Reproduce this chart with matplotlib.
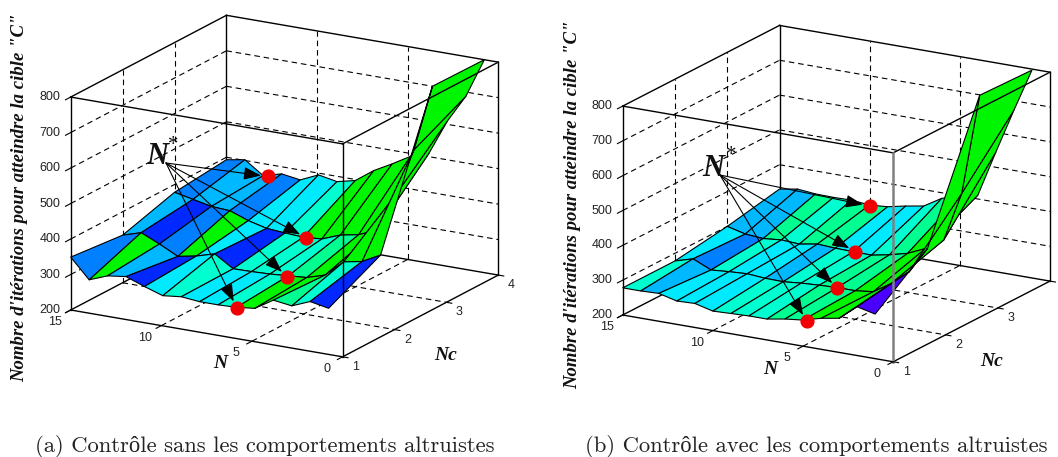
import numpy as np
import matplotlib
matplotlib.use('Agg')
import matplotlib.pyplot as plt
from mpl_toolkits.mplot3d import proj3d

# === axes ===
z_ticks = [200, 300, 400, 500, 600, 700, 800]
n_ticks = [15, 10, 5, 0]
nc_ticks = [1, 2, 3, 4]
nc_vals = [1, 2, 3, 4]

# === (a) sans comportements altruistes ===
n_a = [15.0, 13.98, 12.97, 11.95, 10.93, 9.92, 8.90, 7.89, 6.87, 5.85, 4.84, 3.82, 2.80, 1.79, 0.77]
z_a1 = [349, 294, 314, 321, 302, 285, 291, 286, 286, 288, 294, 326, 319, 340, 330]
z_a2 = [334, 350, 327, 301, 311, 326, 293, 294, 296, 300, 304, 320, 366, 376, 403]
z_a3 = [378, 367, 356, 353, 334, 321, 317, 314, 318, 338, 348, 370, 478, 614, 802]
z_a4 = [393, 402, 366, 380, 372, 395, 385, 397, 434, 462, 492, 510, 610, 688, 800]
lev_a1 = [2, 7, 3, 1, 4, 5, 4, 4, 5, 7, 7, 6, 5, 1]
lev_a2 = [3, 1, 2, 7, 4, 1, 5, 5, 5, 6, 7, 7, 7, 7]
lev_a3 = [2, 3, 3, 2, 4, 4, 5, 7, 7, 7, 7, 7, 7, 7]
best_n_a = [12.72, 7.73, 5.93, 5.84]
best_nc_a = [4, 3, 2, 1]
best_z_a = [366, 314, 297, 287]

# === (b) avec comportements altruistes ===
n_b = [15, 14, 13, 12, 11, 10, 9, 8, 7, 6, 5, 4, 3, 2, 1]
z_b1 = [278, 278, 280, 267, 269, 256, 258, 260, 260, 269, 275, 289, 298, 340, 328]
z_b2 = [278, 293, 270, 274, 277, 273, 272, 277, 280, 282, 282, 288, 321, 364, 439]
z_b3 = [300, 287, 283, 288, 285, 294, 291, 290, 289, 299, 312, 335, 368, 511, 802]
z_b4 = [330, 339, 334, 333, 334, 329, 333, 344, 353, 384, 397, 411, 544, 673, 797]
lev_b1 = [5, 3, 4, 4, 4, 5, 5, 5, 6, 6, 7, 7, 7, 0]
lev_b2 = [4, 2, 5, 4, 4, 3, 5, 5, 6, 6, 7, 7, 7, 7]
lev_b3 = [3, 3, 6, 5, 6, 6, 4, 4, 5, 6, 7, 7, 7, 7]
best_n_b = [10.0, 7.9, 6.0, 4.8]
best_nc_b = [4, 3, 2, 1]
best_z_b = [326, 291, 281, 274]

palette = ['#4a00ff', '#0028ff', '#0080ff', '#00b8ff', '#00eaff', '#00ffd0', '#00ff90', '#00f500']
ylabel = 'Nombre d\'itérations pour atteindre la cible "C"'

W, H = 1058, 457
fig = plt.figure(figsize=(W / 100, H / 100), dpi=100)


def fit_box(ax, corner_a, px_a, corner_b, px_b):
    # place l'axe 3D pour que deux coins de la boite tombent sur les bons pixels
    M = ax.get_proj()
    xa, ya, _ = proj3d.proj_transform(*corner_a, M)
    xb, yb, _ = proj3d.proj_transform(*corner_b, M)
    x0, x1 = ax.viewLim.intervalx
    y0, y1 = ax.viewLim.intervaly
    w = (px_b[0] - px_a[0]) * (x1 - x0) / (xb - xa)
    left = px_a[0] - (xa - x0) / (x1 - x0) * w
    bottom = (H - px_a[1]) - (ya - y0) / (y1 - y0) * w
    ax.set_position([left / W, bottom / H, w / W, w / H])


def label_at(ax, n, nc, z, txt, dx, dy, **kw):
    x2, y2, _ = proj3d.proj_transform(n, nc, z, ax.get_proj())
    ax.annotate(txt, (x2, y2), xytext=(dx * 0.72, -dy * 0.72), textcoords='offset points',
                ha=kw.pop('ha', 'center'), va='center', fontsize=9, family='Liberation Sans',
                color='#222222', annotation_clip=False, zorder=20, **kw)


def draw_panel(pos, aspect, elev, azim, n_vals, z_rows, lev_rows, best, px_a, px_b, star_from, show_nc4, front_style):
    ax = fig.add_axes(pos, projection='3d', proj_type='ortho', computed_zorder=False)
    ax.set_axis_off()
    X, Y = np.meshgrid(n_vals, nc_vals)
    Z = np.array(z_rows, dtype=float)
    fc = np.array([[matplotlib.colors.to_rgba(palette[v]) for v in row] for row in lev_rows])
    surf = ax.plot_surface(X, Y, Z, facecolors=fc, rstride=1, cstride=1, shade=False, zorder=5)
    surf.set_edgecolor('black')
    surf.set_linewidth(0.8)

    ax.set_xlim(15, 0)
    ax.set_ylim(1, 4)
    ax.set_zlim(200, 800)
    ax.set_box_aspect(aspect, zoom=1.0)
    ax.view_init(elev=elev, azim=azim)
    fit_box(ax, (15, 1, 200), px_a, (0, 4, 800), px_b)

    # grille pointillee
    grid = dict(color='black', lw=0.8, ls=(0, (5, 3.5)), zorder=1)
    for z in z_ticks[1:-1]:
        ax.plot([15, 15], [1, 4], [z, z], **grid)
        ax.plot([15, 0], [4, 4], [z, z], **grid)
    for n in n_ticks[1:-1]:
        ax.plot([n, n], [1, 4], [200, 200], **grid)
        ax.plot([n, n], [4, 4], [200, 800], **grid)
    for nc in nc_ticks[1:-1]:
        ax.plot([15, 0], [nc, nc], [200, 200], **grid)
        ax.plot([15, 15], [nc, nc], [200, 800], **grid)

    # boite
    solid = dict(color='black', lw=1.0, zorder=1)
    ax.plot([15, 15], [1, 4], [200, 200], **solid)
    ax.plot([15, 0], [4, 4], [200, 200], **solid)
    ax.plot([15, 15], [4, 4], [200, 800], **solid)
    ax.plot([15, 15], [1, 4], [800, 800], **solid)
    ax.plot([15, 0], [4, 4], [800, 800], **solid)
    solid['zorder'] = 8
    ax.plot([15, 15], [1, 1], [200, 800], **solid)
    ax.plot([0, 0], [4, 4], [200, 800], **solid)
    ax.plot([15, 0], [1, 1], [800, 800], **solid)
    ax.plot([0, 0], [1, 4], [800, 800], **solid)
    ax.plot([15, 0], [1, 1], [200, 200], **solid)
    ax.plot([0, 0], [1, 4], [200, 200], **solid)
    ax.plot([0, 0], [1, 1], [200, 800], zorder=8, **front_style)

    # graduations
    for z in z_ticks:
        ax.plot([15, 15], [1, 0.9], [z, z], color='black', lw=0.8, zorder=8)
        label_at(ax, 15, 1, z, str(z), -10, 0, ha='right')
    for n in n_ticks:
        ax.plot([n, n], [1, 0.9], [200, 200], color='black', lw=0.8, zorder=8)
        label_at(ax, n, 1, 200, str(n), -16, 12)
    for nc in nc_ticks:
        ax.plot([0, -0.3], [nc, nc], [200, 200], color='black', lw=0.8, zorder=8)
        if nc < 4 or show_nc4:
            label_at(ax, 0, nc, 200, str(nc), 13, 10)

    # points N*
    bn, bnc, bz = best
    ax.plot(bn, bnc, bz, 'o', color='#f00000', ms=9.2, mec='#f00000', ls='none', zorder=12)
    for n, nc, z in zip(bn, bnc, bz):
        x2, y2, _ = proj3d.proj_transform(n, nc, z, ax.get_proj())
        ax.annotate('', (x2, y2), xytext=star_from, textcoords='figure pixels', annotation_clip=False, zorder=11,
                    arrowprops=dict(arrowstyle='-|>,head_length=0.75,head_width=0.28', color='black',
                                    lw=0.8, shrinkA=0, shrinkB=5, mutation_scale=14))
    return ax


def px_text(x, y, s, **kw):
    fig.text(x / W, 1 - y / H, s, ha='center', va='center', **kw)


bold_it = dict(family='Liberation Serif', style='italic', weight='bold', color='#111111')

draw_panel([0.05, 0.05, 0.4, 0.4], (1, 1, 0.7126), 17.5, -60.2, n_a, [z_a1, z_a2, z_a3, z_a4],
           [lev_a1, lev_a2, lev_a3], (best_n_a, best_nc_a, best_z_a),
           (70.7, 310), (498.3, 62.3), (166, H - 163), True, dict(color='black', lw=1.0))
draw_panel([0.55, 0.05, 0.4, 0.4], (1, 1, 0.70), 17.35, -59.9, n_b, [z_b1, z_b2, z_b3, z_b4],
           [lev_b1, lev_b2, lev_b3], (best_n_b, best_nc_b, best_z_b),
           (622.7, 315), (1050, 71.7), (720, H - 175), False, dict(color='#808080', lw=1.8))

# titres et legendes
px_text(20, 198, ylabel, rotation=90, fontsize=13.5, **bold_it)
px_text(573, 205, ylabel, rotation=90, fontsize=13.5, **bold_it)
px_text(220, 363, 'N', fontsize=14, **bold_it)
px_text(446, 355, 'Nc', fontsize=14, **bold_it)
px_text(770, 369, 'N', fontsize=14, **bold_it)
px_text(992, 361, 'Nc', fontsize=14, **bold_it)
px_text(157, 157, 'N', fontsize=22, **bold_it)
px_text(173, 146, '*', fontsize=15, family='Liberation Serif', color='#111111')
px_text(713, 168, 'N', fontsize=22, **bold_it)
px_text(731, 156, '*', fontsize=15, family='Liberation Serif', color='#111111')

cap_font = ['cmr10', 'Liberation Serif']
fig.text(35 / W, 1 - 446 / H, '(a) Contrôle sans les comportements altruistes', fontsize=16.3,
         family=cap_font, color='#222222', va='center')
fig.text(585 / W, 1 - 446 / H, '(b) Contrôle avec les comportements altruistes', fontsize=16.3,
         family=cap_font, color='#222222', va='center')

fig.savefig('out.png', dpi=100, facecolor='white')
